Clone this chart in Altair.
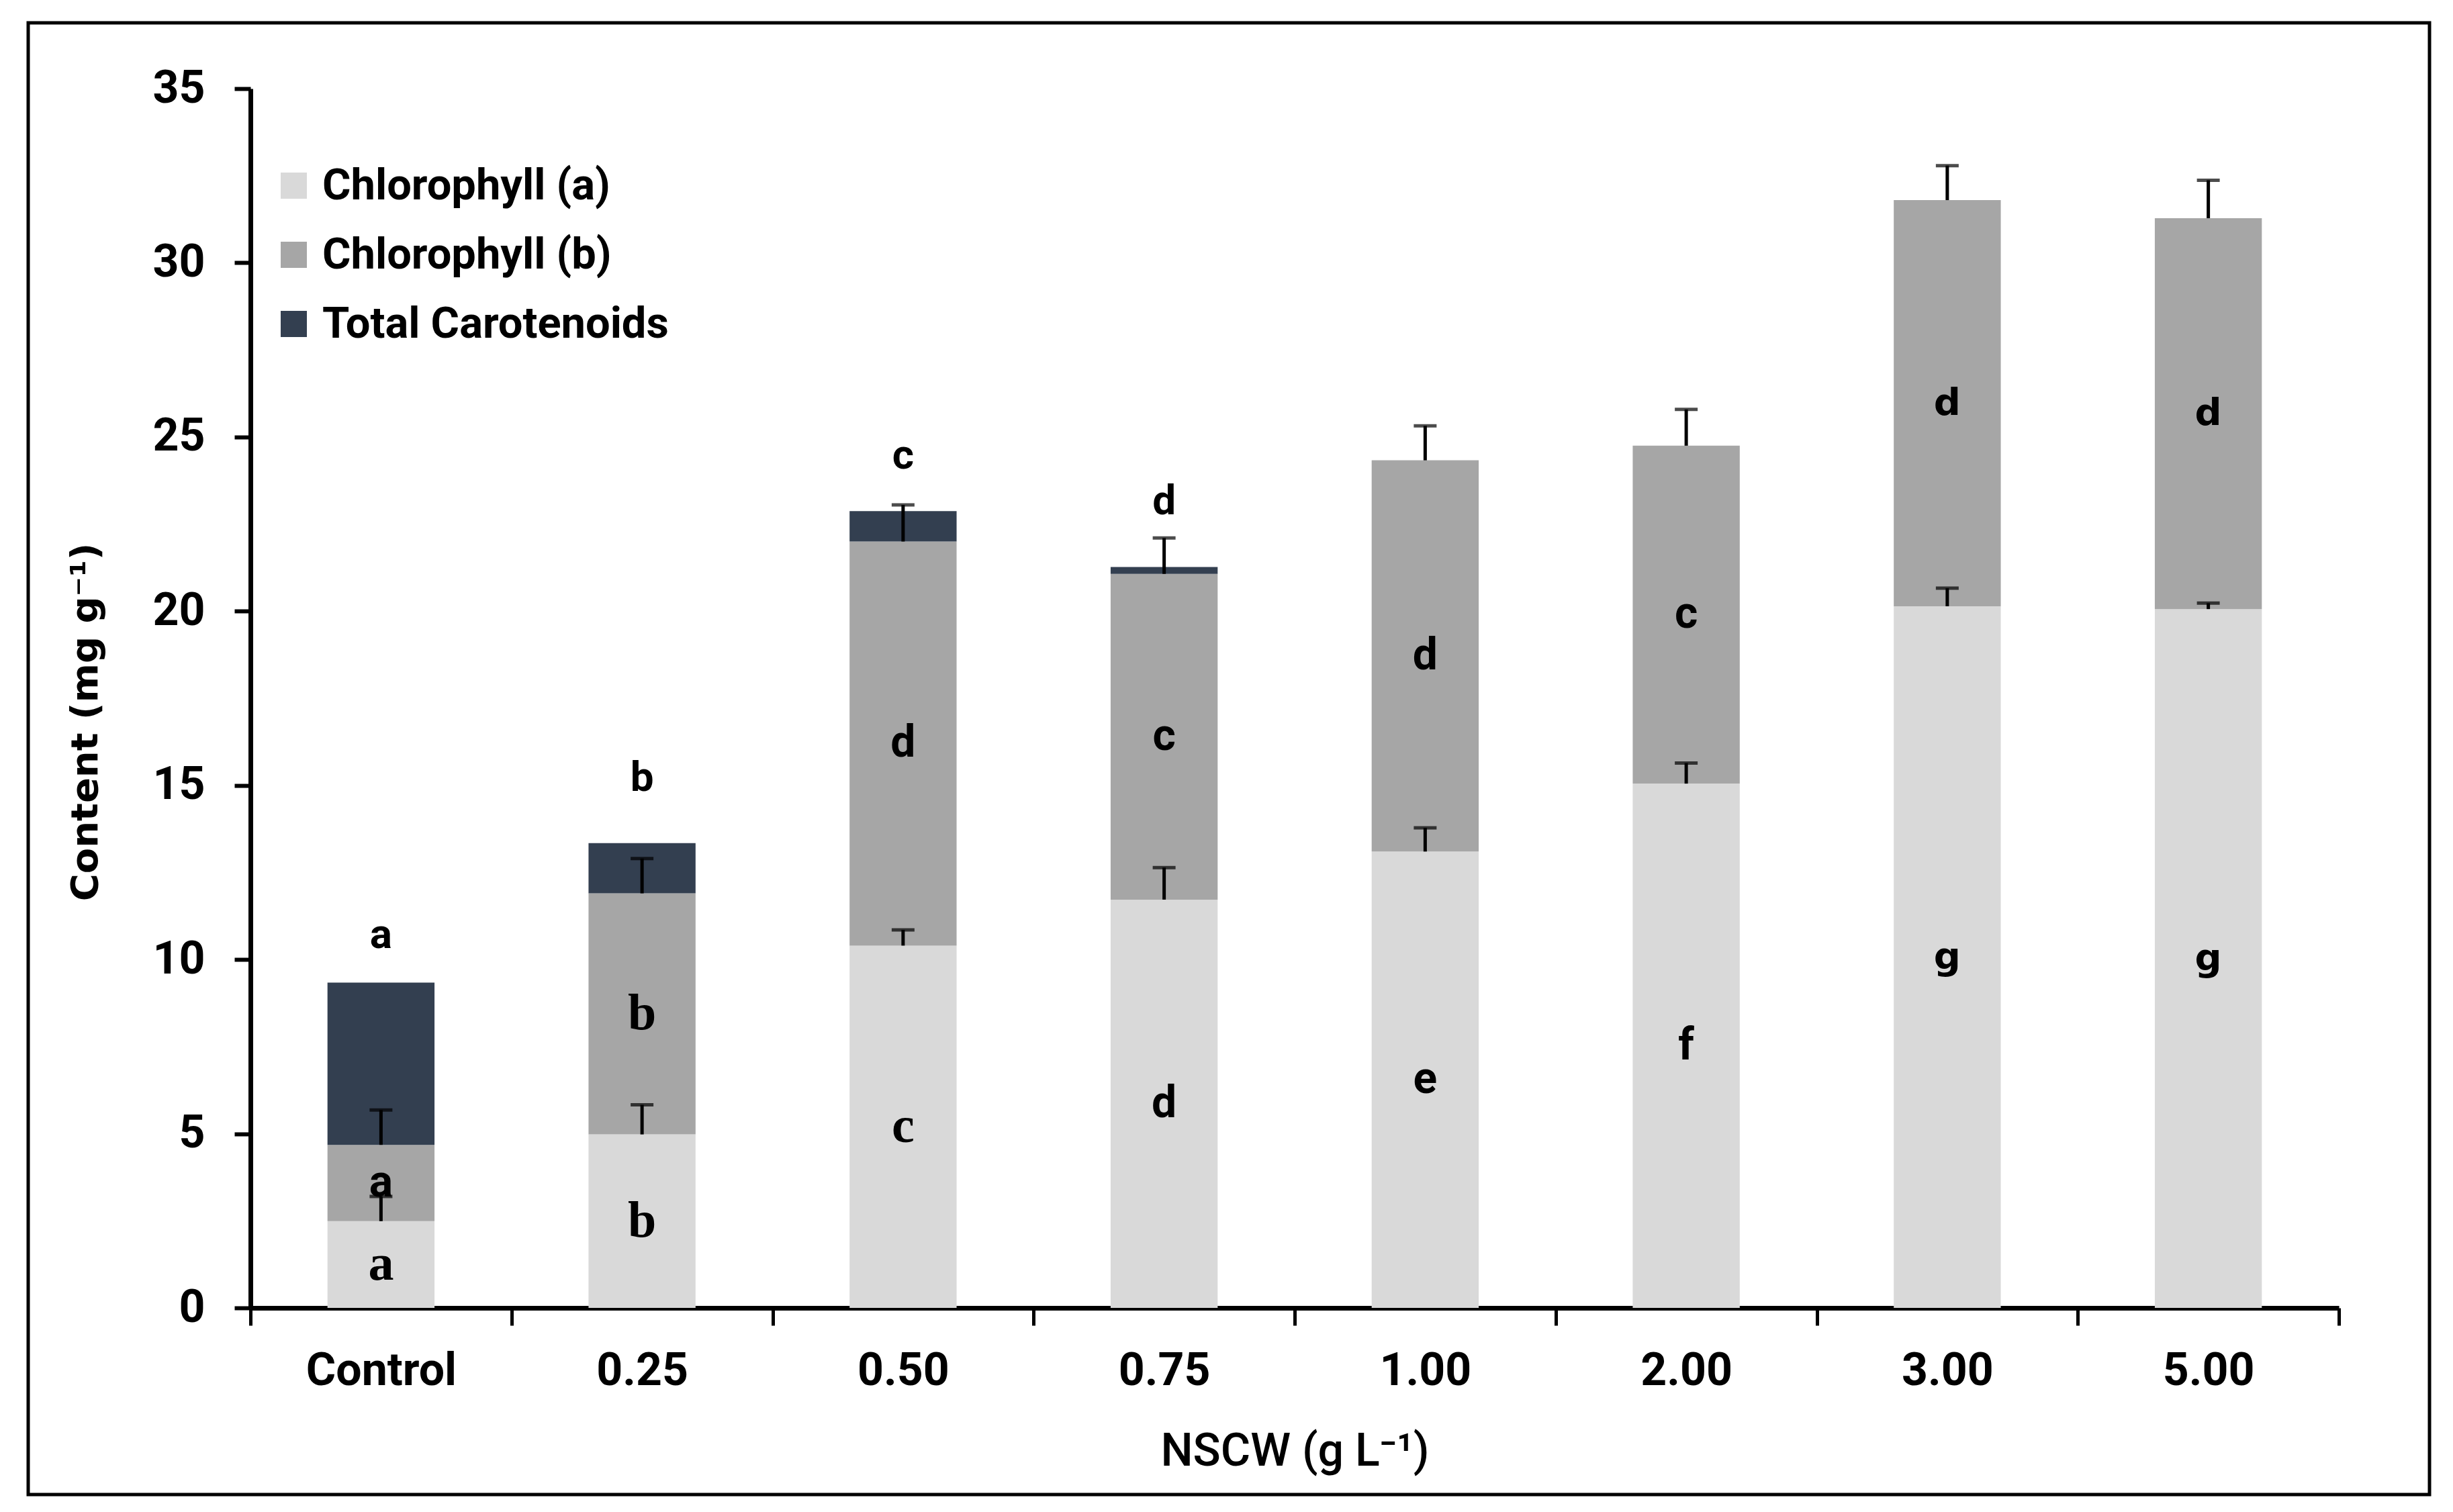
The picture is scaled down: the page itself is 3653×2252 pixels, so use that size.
import altair as alt
import pandas as pd

categories = ["Control", "0.25", "0.50", "0.75", "1.00", "2.00", "3.00", "5.00"]
series = ["Chlorophyll (a)", "Chlorophyll (b)", "Total Carotenoids"]
colors = ["#D9D9D9", "#A6A6A6", "#333F50"]

chl_a = [2.49, 4.98, 10.40, 11.72, 13.10, 15.05, 20.14, 20.06]
chl_b = [2.19, 6.92, 11.60, 9.35, 11.23, 9.70, 11.66, 11.22]
carot = [4.66, 1.44, 0.87, 0.20, 0.0, 0.0, 0.0, 0.0]

chl_a_err = [0.71, 0.85, 0.45, 0.92, 0.68, 0.59, 0.52, 0.17]
chl_b_err = [1.00, 1.00, 1.05, 1.03, 0.99, 1.04, 0.99, 1.09]

letters_a = ["a", "b", "c", "d", "e", "f", "g", "g"]
letters_b = ["a", "b", "d", "c", "d", "c", "d", "d"]
letters_a_style = ["serif", "serif", "serif", "sans", "sans", "sans", "wide", "wide"]
letters_b_style = ["sans", "serif", "sans", "sans", "sans", "sans", "wide", "wide"]

top_letters = ["a", "b", "c", "d"]
top_letter_cats = ["Control", "0.25", "0.50", "0.75"]
top_letter_y = [10.7, 15.2, 24.45, 23.15]

# ---- build tables ----
rows = []
for i, c in enumerate(categories):
    vals = [chl_a[i], chl_b[i], carot[i]]
    base = 0.0
    for k, s in enumerate(series):
        top = base + vals[k]
        rows.append({"cat": c, "series": s, "ord": k, "y0": base, "y1": top})
        base = top
bars = pd.DataFrame(rows)

err_rows = []
lab_rows = []
for i, c in enumerate(categories):
    a_top = chl_a[i]
    b_top = chl_a[i] + chl_b[i]
    err_rows.append({"cat": c, "lo": a_top, "hi": a_top + chl_a_err[i]})
    err_rows.append({"cat": c, "lo": b_top, "hi": b_top + chl_b_err[i]})
    lab_rows.append({"cat": c, "y": a_top / 2, "txt": letters_a[i], "style": letters_a_style[i]})
    lab_rows.append({"cat": c, "y": a_top + chl_b[i] / 2, "txt": letters_b[i], "style": letters_b_style[i]})
errs = pd.DataFrame(err_rows)
labs = pd.DataFrame(lab_rows)
tops = pd.DataFrame({"cat": top_letter_cats, "y": top_letter_y, "txt": top_letters})

W, H = 3110, 1816

x_scale = alt.Scale(domain=categories, paddingInner=0, paddingOuter=0)
x_enc = alt.X(
    "cat:N",
    sort=categories,
    scale=x_scale,
    axis=alt.Axis(
        title="NSCW (g L\u207b\u00b9)",
        titleFont="Roboto", titleFontWeight=500, titleFontSize=68, titleColor="black",
        titlePadding=52,
        labelFont="Roboto", labelFontWeight="bold", labelFontSize=68, labelColor="black",
        labelAngle=0, labelPadding=34, labelLimit=1000,
        tickBand="extent", tickSize=26, tickWidth=5, tickColor="black",
        domainColor="black", domainWidth=7,
    ),
)
y_scale = alt.Scale(domain=[0, 35], nice=False)
y_axis = alt.Axis(
    title="Content (mg g\u207b\u00b9)",
    titleFont="DejaVu Sans", titleFontWeight="bold", titleFontSize=56, titleColor="black",
    titlePadding=70, titleY=H / 2 + 35,
    values=[0, 5, 10, 15, 20, 25, 30, 35],
    labelFont="Roboto", labelFontWeight="bold", labelFontSize=68, labelColor="black",
    labelPadding=44,
    tickSize=24, tickWidth=6, tickColor="black",
    domainColor="black", domainWidth=7, grid=False,
)

bar_layer = alt.Chart(bars).mark_bar(width=alt.RelativeBandSize(0.41)).encode(
    x=x_enc,
    y=alt.Y("y1:Q", scale=y_scale, axis=y_axis),
    y2="y0:Q",
    color=alt.Color(
        "series:N",
        scale=alt.Scale(domain=series, range=colors),
        legend=alt.Legend(
            title=None, orient="none", legendX=32, legendY=112,
            symbolType="square", symbolSize=1521, symbolStrokeWidth=0,
            labelFont="Roboto", labelFontWeight="bold", labelFontSize=65,
            labelColor="black", labelOffset=10, rowPadding=37, padding=0,
            labelLimit=1000,
        ),
    ),
    order=alt.Order("ord:Q", sort="ascending"),
)

err_rule = alt.Chart(errs).mark_rule(color="black", strokeWidth=5).encode(
    x=alt.X("cat:N", sort=categories, scale=x_scale),
    y="lo:Q",
    y2="hi:Q",
)
err_cap = alt.Chart(errs).mark_tick(color="black", size=34, thickness=5, orient="horizontal").encode(
    x=alt.X("cat:N", sort=categories, scale=x_scale),
    y="hi:Q",
)

def letter_layer(style, font, size, weight):
    return alt.Chart(labs).transform_filter(
        alt.datum.style == style
    ).mark_text(font=font, fontSize=size, fontWeight=weight, color="black", baseline="middle", align="center").encode(
        x=alt.X("cat:N", sort=categories, scale=x_scale),
        y="y:Q",
        text="txt:N",
    )

serif_l = letter_layer("serif", "Liberation Serif", 76, "bold")
sans_l = letter_layer("sans", "Roboto", 66, "bold")
wide_l = letter_layer("wide", "DejaVu Sans", 56, "bold")

top_l = alt.Chart(tops).mark_text(
    font="Roboto", fontSize=62, fontWeight="bold", color="black", baseline="middle", align="center"
).encode(
    x=alt.X("cat:N", sort=categories, scale=x_scale),
    y="y:Q",
    text="txt:N",
)

frame = alt.Chart(pd.DataFrame({"k": [0]})).mark_rect(
    fill="white", fillOpacity=0, stroke="black", strokeWidth=5
).encode(
    x=alt.value(-331), x2=alt.value(3245), y=alt.value(-98), y2=alt.value(2094)
)

chart = alt.layer(
    bar_layer, err_rule, err_cap, serif_l, sans_l, wide_l, top_l, frame
).properties(
    width=W, height=H,
    autosize=alt.AutoSizeParams(type="none"),
    padding={"left": 365, "top": 124, "right": 150, "bottom": 290},
    background="white",
).configure_view(stroke=None).configure_axis(grid=False)

chart.save("out.html", embed_options={"renderer": "svg", "actions": False})
